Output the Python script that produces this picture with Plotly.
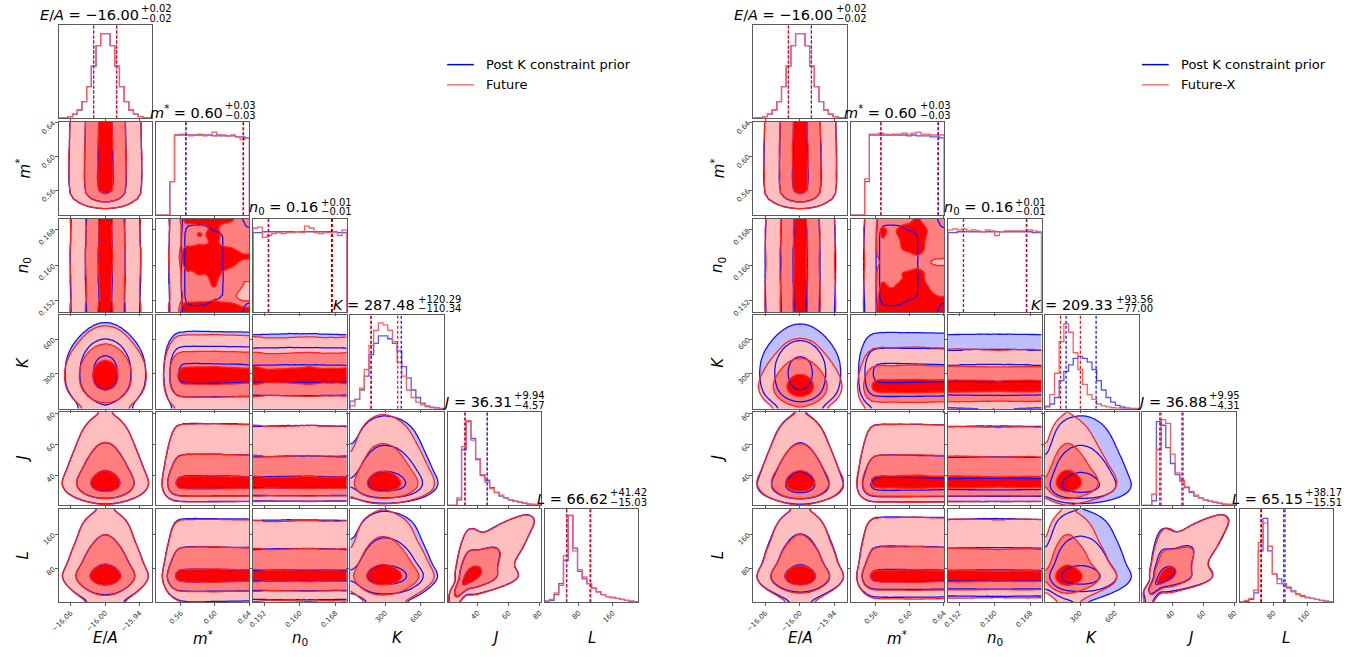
import math
import numpy as np
import plotly.graph_objects as go

W, H = 1368, 657

# ---------------- data ----------------
PARAM_NAMES = ["<i>E</i>/<i>A</i>", "<i>m</i><sup>*</sup>", "<i>n</i><sub>0</sub>",
               "<i>K</i>", "<i>J</i>", "<i>L</i>"]
AXIS_RANGES = [[-16.081, -15.918], [0.5305, 0.6405], [0.1495, 0.1705],
               [0.0, 805.0], [20.5, 81.0], [0.0, 220.0]]
TICK_VALUES = [[-16.06, -16.00, -15.94], [0.56, 0.60, 0.64], [0.152, 0.160, 0.168],
               [300, 600], [40, 60, 80], [80, 160]]
TICK_TEXT = [["−16.06", "−16.00", "−15.94"], ["0.56", "0.60", "0.64"],
             ["0.152", "0.160", "0.168"], ["300", "600"], ["40", "60", "80"], ["80", "160"]]

LEGEND_LEFT = ["Post K constraint prior", "Future"]
LEGEND_RIGHT = ["Post K constraint prior", "Future-X"]

# 20-bin histograms, bar heights as a fraction of the panel height
HIST_EA = [0.003, 0.008, 0.02, 0.045, 0.09, 0.18, 0.34, 0.56, 0.78, 0.91,
           0.91, 0.78, 0.56, 0.34, 0.18, 0.09, 0.045, 0.02, 0.008, 0.003]
HIST_MSTAR_PRIOR = [0, 0, 0, 0.36, 0.86, 0.86, 0.86, 0.86, 0.86, 0.86,
                    0.86, 0.86, 0.85, 0.86, 0.85, 0.85, 0.85, 0.84, 0.84, 0.83]
HIST_MSTAR_FUTURE = [0, 0, 0, 0.36, 0.86, 0.87, 0.86, 0.85, 0.86, 0.87,
                     0.85, 0.86, 0.89, 0.85, 0.86, 0.85, 0.86, 0.84, 0.81, 0.83]
HIST_MSTAR_FUTUREX = [0, 0, 0, 0.39, 0.87, 0.87, 0.88, 0.87, 0.86, 0.87,
                      0.87, 0.88, 0.87, 0.88, 0.89, 0.87, 0.87, 0.86, 0.86, 0.86]
HIST_N0_PRIOR = [0.85, 0.85, 0.86, 0.86, 0.86, 0.86, 0.86, 0.86, 0.86, 0.86,
                 0.86, 0.86, 0.86, 0.86, 0.86, 0.86, 0.86, 0.86, 0.85, 0.85]
HIST_N0_FUTURE = [0.90, 0.91, 0.80, 0.82, 0.84, 0.85, 0.84, 0.85, 0.85, 0.86,
                  0.85, 0.92, 0.90, 0.85, 0.84, 0.85, 0.85, 0.86, 0.82, 0.88]
HIST_N0_FUTUREX = [0.88, 0.89, 0.88, 0.89, 0.87, 0.88, 0.87, 0.86, 0.88, 0.87,
                   0.82, 0.86, 0.87, 0.87, 0.87, 0.87, 0.87, 0.88, 0.87, 0.86]
HIST_K_PRIOR_LEFT = [0.08, 0.10, 0.20, 0.35, 0.58, 0.70, 0.78, 0.78, 0.75, 0.70,
                     0.62, 0.45, 0.33, 0.20, 0.12, 0.06, 0.03, 0.015, 0.008, 0.003]
HIST_K_FUTURE = [0.03, 0.10, 0.22, 0.42, 0.68, 0.84, 0.92, 0.90, 0.84, 0.72,
                 0.50, 0.35, 0.20, 0.12, 0.07, 0.04, 0.02, 0.01, 0.005, 0.0]
HIST_K_PRIOR_RIGHT = [0.02, 0.05, 0.12, 0.30, 0.40, 0.47, 0.54, 0.56, 0.54, 0.50,
                      0.42, 0.30, 0.20, 0.12, 0.07, 0.035, 0.018, 0.008, 0.004, 0.002]
HIST_K_FUTUREX = [0.03, 0.15, 0.38, 0.72, 0.91, 0.82, 0.60, 0.42, 0.26, 0.15,
                  0.10, 0.05, 0.03, 0.02, 0.01, 0.005, 0.0, 0.0, 0.0, 0.0]
HIST_J_PRIOR_LEFT = [0, 0, 0.06, 0.60, 0.90, 0.72, 0.50, 0.32, 0.27, 0.19,
                     0.14, 0.10, 0.08, 0.06, 0.045, 0.035, 0.025, 0.015, 0.01, 0.005]
HIST_J_FUTURE = [0, 0, 0.08, 0.63, 0.91, 0.70, 0.49, 0.33, 0.25, 0.18,
                 0.14, 0.11, 0.08, 0.06, 0.045, 0.035, 0.025, 0.015, 0.01, 0.005]
HIST_J_PRIOR_RIGHT = [0, 0, 0.05, 0.90, 0.86, 0.62, 0.45, 0.33, 0.26, 0.19,
                      0.14, 0.10, 0.08, 0.06, 0.045, 0.035, 0.025, 0.015, 0.01, 0.005]
HIST_J_FUTUREX = [0, 0, 0.12, 0.60, 0.92, 0.88, 0.55, 0.35, 0.27, 0.20,
                  0.15, 0.11, 0.08, 0.06, 0.045, 0.035, 0.025, 0.015, 0.01, 0.005]
HIST_L_PRIOR_LEFT = [0.01, 0.02, 0.08, 0.20, 0.45, 0.93, 0.58, 0.33, 0.25, 0.20,
                     0.15, 0.11, 0.08, 0.06, 0.05, 0.04, 0.03, 0.02, 0.01, 0.005]
HIST_L_FUTURE = [0.01, 0.03, 0.10, 0.18, 0.50, 0.93, 0.55, 0.35, 0.27, 0.20,
                 0.15, 0.11, 0.08, 0.06, 0.05, 0.04, 0.03, 0.02, 0.01, 0.005]
HIST_L_PRIOR_RIGHT = [0.005, 0.01, 0.03, 0.10, 0.55, 0.90, 0.55, 0.30, 0.25, 0.20,
                      0.16, 0.12, 0.09, 0.07, 0.05, 0.04, 0.03, 0.02, 0.01, 0.005]
HIST_L_FUTUREX = [0.005, 0.02, 0.04, 0.13, 0.64, 0.85, 0.60, 0.30, 0.20, 0.20,
                  0.15, 0.11, 0.08, 0.06, 0.05, 0.04, 0.03, 0.02, 0.01, 0.005]

# J-L dependence (normal-score space): a compact round core plus a strongly correlated tail
W_JL_CORE = 0.5
S_JL_CORE = 0.7
RHO_JL_TAIL = 0.9

# 16% / 84% quantile lines
Q16_PRIOR = [-16.02, 0.5660, 0.1530, 180.0, 31.8, 51.2]
Q84_PRIOR = [-15.98, 0.6335, 0.1671, 438.0, 46.1, 106.5]
Q16_FUTURE = [-16.02, 0.5655, 0.1529, 177.14, 31.74, 51.59]
Q84_FUTURE = [-15.98, 0.6330, 0.1673, 407.77, 46.25, 108.04]
Q16_FUTUREX = [-16.02, 0.5660, 0.1530, 132.33, 32.57, 49.64]
Q84_FUTUREX = [-15.98, 0.6330, 0.1672, 302.89, 46.83, 103.32]

# titles (median, +err, -err)
TITLE_MED_FUTURE = [-16.00, 0.60, 0.16, 287.48, 36.31, 66.62]
TITLE_PLUS_FUTURE = [0.02, 0.03, 0.01, 120.29, 9.94, 41.42]
TITLE_MINUS_FUTURE = [0.02, 0.03, 0.01, 110.34, 4.57, 15.03]
TITLE_MED_FUTUREX = [-16.00, 0.60, 0.16, 209.33, 36.88, 65.15]
TITLE_PLUS_FUTUREX = [0.02, 0.03, 0.01, 93.56, 9.95, 38.17]
TITLE_MINUS_FUTUREX = [0.02, 0.03, 0.01, 77.00, 4.31, 15.51]

# ---------------- styling / layout ----------------
FONT = "DejaVu Sans"
PLOT_X0 = [51.0, 752.0]
Y0 = 22.5
PITCH = 98.1
SIZE = 94.5
BLUE_FILLS = ["#bfbfff", "#7f7fff", "#0000ff"]
RED_FILLS = ["#ffbfbf", "#ff7f7f", "#ff0000"]
BLUE_LINE = "#1010ff"
RED_LINE = "#ff2020"
BLUE_HIST = "#5555ff"
RED_HIST = "#ff5c5c"
FRAME = "#5a5a5a"

datasets = {
    "prior_left": [HIST_EA, HIST_MSTAR_PRIOR, HIST_N0_PRIOR, HIST_K_PRIOR_LEFT,
                   HIST_J_PRIOR_LEFT, HIST_L_PRIOR_LEFT],
    "future": [HIST_EA, HIST_MSTAR_FUTURE, HIST_N0_FUTURE, HIST_K_FUTURE,
               HIST_J_FUTURE, HIST_L_FUTURE],
    "prior_right": [HIST_EA, HIST_MSTAR_PRIOR, HIST_N0_PRIOR, HIST_K_PRIOR_RIGHT,
                    HIST_J_PRIOR_RIGHT, HIST_L_PRIOR_RIGHT],
    "futurex": [HIST_EA, HIST_MSTAR_FUTUREX, HIST_N0_FUTUREX, HIST_K_FUTUREX,
                HIST_J_FUTUREX, HIST_L_FUTUREX],
}
quant = {"prior_left": (Q16_PRIOR, Q84_PRIOR), "future": (Q16_FUTURE, Q84_FUTURE),
         "prior_right": (Q16_PRIOR, Q84_PRIOR), "futurex": (Q16_FUTUREX, Q84_FUTUREX)}
PLOTS = [
    dict(blue="prior_left", red="future", legend=LEGEND_LEFT,
         med=TITLE_MED_FUTURE, plus=TITLE_PLUS_FUTURE, minus=TITLE_MINUS_FUTURE),
    dict(blue="prior_right", red="futurex", legend=LEGEND_RIGHT,
         med=TITLE_MED_FUTUREX, plus=TITLE_PLUS_FUTUREX, minus=TITLE_MINUS_FUTUREX),
]

# ---------------- helpers ----------------
NFINE = 400
NGRID = 72
TAIL_EPS = 0.003
ZT = np.linspace(-6, 6, 4001)
PHI = 0.5 * (1 + np.array([math.erf(v / math.sqrt(2)) for v in ZT]))


def norm_ppf(p):
    return np.interp(np.clip(p, 1e-9, 1 - 1e-9), PHI, ZT)


def smooth1d(f, sigma):
    r = int(4 * sigma) + 1
    k = np.exp(-0.5 * (np.arange(-r, r + 1) / sigma) ** 2)
    k /= k.sum()
    fp = np.pad(f, r, mode="symmetric")
    return np.convolve(fp, k, mode="valid")


def marginal(hist, rng, grid, smooth=1.0):
    nb = len(hist)
    fine = np.linspace(rng[0], rng[1], NFINE)
    idx = np.minimum(((fine - rng[0]) / (rng[1] - rng[0]) * nb).astype(int), nb - 1)
    f = np.asarray(hist, float)[idx]
    f = smooth1d(f, smooth * NFINE / nb)
    f = np.maximum(f, 1e-12)
    F = np.cumsum(f) - 0.5 * f
    F /= F[-1] + 0.5 * f[-1]
    F = TAIL_EPS + (1 - 2 * TAIL_EPS) * F   # samples extend a little beyond the plotted range
    return np.interp(grid, fine, f), np.interp(grid, fine, F)


def jl_copula(zx, zy):
    r2 = zx ** 2 + zy ** 2
    core = np.exp(-r2 * (1 / (2 * S_JL_CORE ** 2) - 0.5)) / S_JL_CORE ** 2
    rho = RHO_JL_TAIL
    tail = np.exp(-(rho ** 2 * r2 - 2 * rho * zx * zy) / (2 * (1 - rho ** 2))) / math.sqrt(1 - rho ** 2)
    return W_JL_CORE * core + (1 - W_JL_CORE) * tail


def sigma_field(hx, rx, hy, ry, dependent):
    xg = np.linspace(rx[0], rx[1], NGRID)
    yg = np.linspace(ry[0], ry[1], NGRID)
    fx, Fx = marginal(hx, rx, xg)
    fy, Fy = marginal(hy, ry, yg)
    D = fy[:, None] * fx[None, :]
    if dependent:
        D = D * jl_copula(norm_ppf(Fx)[None, :], norm_ppf(Fy)[:, None])
    flat = D.ravel()
    order = np.argsort(flat)[::-1]
    cum = np.cumsum(flat[order])
    cum /= cum[-1]
    M = np.empty_like(cum)
    M[order] = cum
    M = np.minimum(M, 1 - 1e-7)
    s = np.sqrt(-2 * np.log(1 - M))
    z = -np.minimum(s, 4.0)
    return xg, yg, np.round(z.reshape(D.shape), 2)


CW = {str(d): 0.636 for d in range(10)}
CW.update({".": 0.318, " ": 0.318, "=": 0.838, "−": 0.838, "+": 0.838})
NAME_W = [1.70, 1.33, 1.08, 0.70, 0.34, 0.60]


def text_w(s):
    return sum(CW.get(ch, 0.6) for ch in s)


def fmt(v):
    return f"{v:.2f}".replace("-", "−")


def px2x(px):
    return px / W


def px2y(py):
    return 1 - py / H


fig = go.Figure()
layout = {}
annotations = []
shapes = []
k = 0

for p, pl in enumerate(PLOTS):
    x0 = PLOT_X0[p]
    blue_h = datasets[pl["blue"]]
    red_h = datasets[pl["red"]]
    for i in range(6):
        for j in range(i + 1):
            k += 1
            xn = "xaxis" if k == 1 else f"xaxis{k}"
            yn = "yaxis" if k == 1 else f"yaxis{k}"
            xr = "x" if k == 1 else f"x{k}"
            yr = "y" if k == 1 else f"y{k}"
            left = x0 + j * PITCH
            top = Y0 + i * PITCH
            xd = [px2x(left), px2x(left + SIZE)]
            yd = [px2y(top + SIZE), px2y(top)]
            common = dict(showgrid=False, zeroline=False, showline=True, mirror=True,
                          linecolor=FRAME, linewidth=1, fixedrange=True,
                          tickfont=dict(family=FONT, size=7, color="#333"),
                          ticks="outside", ticklen=3, tickcolor=FRAME, tickangle=-45)
            layout[xn] = dict(common, domain=xd, anchor=yr, range=AXIS_RANGES[j],
                              tickmode="array", tickvals=TICK_VALUES[j],
                              ticktext=TICK_TEXT[j], showticklabels=(i == 5))
            if i == j:
                layout[yn] = dict(common, domain=yd, anchor=xr, range=[0, 1],
                                  ticks="", showticklabels=False)
                rng = AXIS_RANGES[j]
                edges = np.linspace(rng[0], rng[1], 21)
                xs = [edges[0]] + list(edges[:-1]) + [edges[-1], edges[-1]]
                for key, hist, col in ((pl["blue"], blue_h[j], BLUE_HIST),
                                       (pl["red"], red_h[j], RED_HIST)):
                    ys = [0] + list(hist) + [hist[-1], 0]
                    fig.add_trace(go.Scatter(x=xs, y=ys, mode="lines",
                                             line=dict(color=col, width=1.3, shape="hv"),
                                             xaxis=xr, yaxis=yr, hoverinfo="skip",
                                             showlegend=False))
                for key, col in ((pl["blue"], "#0000ff"), (pl["red"], "#ff0000")):
                    q16, q84 = quant[key]
                    for q in (q16[j], q84[j]):
                        fig.add_trace(go.Scatter(x=[q, q], y=[0, 1], mode="lines",
                                                 line=dict(color=col, width=1.2, dash="3px,2px"),
                                                 xaxis=xr, yaxis=yr, hoverinfo="skip",
                                                 showlegend=False))
                # title
                cx = left + SIZE / 2
                main = f"{PARAM_NAMES[i]} = {fmt(pl['med'][i])}"
                sup = f"+{pl['plus'][i]:.2f}"
                sub = f"−{pl['minus'][i]:.2f}"
                mw = (NAME_W[i] + text_w(f" = {fmt(pl['med'][i])}")) * 14.5
                sw = max(text_w(sup), text_w(sub)) * 10
                joint = cx - (mw + sw) / 2 + mw
                annotations.append(dict(x=px2x(joint), y=px2y(top - 10.5), xref="paper",
                                        yref="paper", text=main, showarrow=False,
                                        xanchor="right", yanchor="middle", borderpad=0,
                                        font=dict(family=FONT, size=14.5, color="black")))
                annotations.append(dict(x=px2x(joint + 0.5), y=px2y(top - 16.5), xref="paper",
                                        yref="paper", text=sup, showarrow=False,
                                        xanchor="left", yanchor="middle", borderpad=0,
                                        font=dict(family=FONT, size=10, color="black")))
                annotations.append(dict(x=px2x(joint + 0.5), y=px2y(top - 7.0), xref="paper",
                                        yref="paper", text=sub, showarrow=False,
                                        xanchor="left", yanchor="middle", borderpad=0,
                                        font=dict(family=FONT, size=10, color="black")))
            else:
                layout[yn] = dict(common, domain=yd, anchor=xr, range=AXIS_RANGES[i],
                                  tickmode="array", tickvals=TICK_VALUES[i],
                                  ticktext=TICK_TEXT[i], showticklabels=(j == 0))
                fields = {}
                for key in (pl["blue"], pl["red"]):
                    hs = datasets[key]
                    fields[key] = sigma_field(hs[j], AXIS_RANGES[j], hs[i], AXIS_RANGES[i],
                                              (j, i) == (4, 5))
                for key, fills in ((pl["blue"], BLUE_FILLS), (pl["red"], RED_FILLS)):
                    xg, yg, z = fields[key]
                    fig.add_trace(go.Contour(
                        x=xg, y=yg, z=z, autocontour=False,
                        contours=dict(start=-3, end=-1, size=1, coloring="fill", showlines=False),
                        colorscale=[[0, "rgba(255,255,255,0)"], [1 / 3, fills[0]],
                                    [2 / 3, fills[1]], [1, fills[2]]],
                        showscale=False, line=dict(width=0), hoverinfo="skip",
                        xaxis=xr, yaxis=yr))
                for key, col in ((pl["blue"], BLUE_LINE), (pl["red"], RED_LINE)):
                    xg, yg, z = fields[key]
                    fig.add_trace(go.Contour(
                        x=xg, y=yg, z=z, autocontour=False,
                        contours=dict(start=-3, end=-1, size=1, coloring="none"),
                        showscale=False, line=dict(width=1.3, color=col, smoothing=1),
                        hoverinfo="skip", xaxis=xr, yaxis=yr))

    # axis labels
    for j in range(6):
        cx = x0 + j * PITCH + SIZE / 2
        annotations.append(dict(x=px2x(cx), y=px2y(644), xref="paper", yref="paper",
                                text=PARAM_NAMES[j], showarrow=False, xanchor="center",
                                yanchor="middle", font=dict(family=FONT, size=15, color="black")))
    for i in range(1, 6):
        cy = Y0 + i * PITCH + SIZE / 2
        annotations.append(dict(x=px2x(x0 - 36), y=px2y(cy), xref="paper", yref="paper",
                                text=PARAM_NAMES[i], showarrow=False, xanchor="center",
                                yanchor="middle", textangle=-90,
                                font=dict(family=FONT, size=15, color="black")))
    # legend
    lx = x0 + 392
    for n, (lab, col) in enumerate(zip(pl["legend"], ["#0000ff", "#ff7070"])):
        ly = 62.5 + n * 20.5
        shapes.append(dict(type="line", xref="paper", yref="paper",
                           x0=px2x(lx), x1=px2x(lx + 27), y0=px2y(ly), y1=px2y(ly),
                           line=dict(color=col, width=1.5)))
        annotations.append(dict(x=px2x(lx + 37), y=px2y(ly), xref="paper", yref="paper",
                                text=lab, showarrow=False, xanchor="left", yanchor="middle",
                                font=dict(family=FONT, size=13, color="black")))

fig.update_layout(**layout)
fig.update_layout(width=W, height=H, margin=dict(l=0, r=0, t=0, b=0),
                  paper_bgcolor="white", plot_bgcolor="white", showlegend=False,
                  annotations=annotations, shapes=shapes)
fig.write_html("out.html")
